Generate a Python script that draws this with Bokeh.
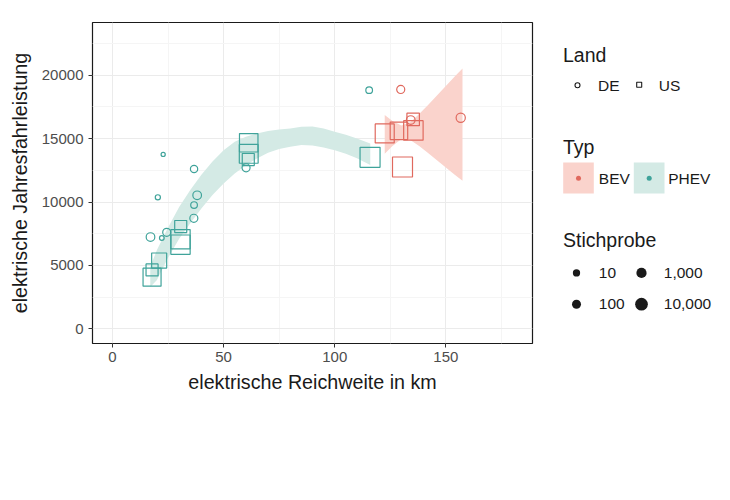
import numpy as np
from bokeh.plotting import figure
from bokeh.models import Range1d, FixedTicker, ColumnDataSource
from bokeh.layouts import row
from bokeh.embed import file_html
from bokeh.resources import INLINE
from bokeh.core.properties import value

# ---------------- data ----------------
land = ["DE"] * 14 + ["US"] * 15
typ = (["PHEV"] * 11 + ["BEV"] * 3 +
       ["PHEV"] * 10 + ["BEV"] * 5)
reichweite = [22.8, 36.7, 20.4, 38.1, 36.7, 36.6, 17.1, 22.2, 24.4, 60.1, 115.5,
              129.7, 156.7, 134.2,
              30.7, 30.6, 30.6, 21.0, 17.8, 17.8, 61.3, 61.3, 61.1, 115.9,
              135.3, 122.5, 128.9, 135.4, 130.5]
jahresfahrleistung = [13750, 12600, 10370, 10530, 9760, 8720, 7240, 7170, 7610, 12700, 18820,
                      18870, 16640, 16460,
                      8070, 7070, 6640, 5390, 4650, 4080, 14670, 13800, 13350, 13520,
                      16510, 15410, 15615, 15645, 12760]
stichprobe = [3, 15, 5, 30, 11, 22, 30, 4, 22, 22, 11,
              22, 40, 30,
              170, 7000, 7000, 780, 170, 3600, 4600, 5500, 170, 10000,
              215, 6000, 2800, 7500, 10000]

# smoothing bands
phev_x = [17, 20, 25, 30, 35, 40, 45, 50, 55, 60, 65, 70, 75, 80, 85, 90, 95, 100, 105, 110, 116]
phev_lo = [3300, 3860, 5600, 7100, 8320, 9500, 10550, 11470, 12250, 12900, 13440, 13880,
           14180, 14350, 14490, 14450, 14300, 14090, 13800, 13450, 12910]
phev_hi = [4900, 6220, 8000, 9600, 10945, 12150, 13200, 14090, 14750, 15150, 15410, 15600,
           15720, 15800, 15930, 15950, 15800, 15540, 15300, 15000, 14620]
bev_x = [122.5, 126, 130, 134, 138, 142, 146, 150, 154, 157.5]
bev_lo = [13800, 14414, 14961, 14885, 14411, 13865, 13300, 12729, 12152, 11680]
bev_hi = [16855, 16396, 16027, 16281, 16933, 17657, 18400, 19149, 19902, 20530]

x_ticks = [0, 50, 100, 150]
y_ticks = [0, 5000, 10000, 15000, 20000]
size_breaks = [10, 100, 1000, 10000]

# ---------------- style ----------------
COL = {"BEV": "#E0695E", "PHEV": "#3FA39A"}
BAND = {"BEV": "#FAD3CC", "PHEV": "#D4EAE5"}
FONT = "Liberation Sans"

def px_size(n):
    return 2.0 + 4.5 * np.log10(np.asarray(n, dtype=float))

W_MAIN, H = 548, 484
B_LEFT, B_TOP, B_RIGHT = 92, 22, 16
B_BOTTOM = H - B_TOP - 321

p = figure(width=W_MAIN, height=H, x_range=Range1d(-9, 189), y_range=Range1d(-1150, 24150),
           output_backend="svg", toolbar_location=None, tools="")
p.min_border_left = B_LEFT
p.min_border_top = B_TOP
p.min_border_right = B_RIGHT
p.min_border_bottom = B_BOTTOM
p.background_fill_color = "#FFFFFF"
p.border_fill_color = "#FFFFFF"
p.outline_line_color = "#1A1A1A"
p.outline_line_width = 1.2

p.xaxis.ticker = FixedTicker(ticks=x_ticks, minor_ticks=[25, 75, 125, 175])
p.yaxis.ticker = FixedTicker(ticks=y_ticks, minor_ticks=[2500, 7500, 12500, 17500, 22500])
p.xgrid.grid_line_color = "#EBEBEB"
p.ygrid.grid_line_color = "#EBEBEB"
p.xgrid.minor_grid_line_color = "#F5F5F5"
p.ygrid.minor_grid_line_color = "#F5F5F5"
for ax in (p.xaxis, p.yaxis):
    ax.axis_line_color = None
    ax.major_tick_line_color = "#333333"
    ax.major_tick_out = 4
    ax.major_tick_in = 0
    ax.minor_tick_line_color = None
    ax.major_label_text_font = FONT
    ax.major_label_text_font_size = "15px"
    ax.major_label_text_color = "#4D4D4D"
    ax.axis_label_text_font = FONT
    ax.axis_label_text_font_size = "19.7px"
    ax.axis_label_text_font_style = "normal"
    ax.axis_label_text_color = "#1A1A1A"
p.xaxis.axis_label = "elektrische Reichweite in km"
p.yaxis.axis_label = "elektrische Jahresfahrleistung"
p.xaxis.major_label_standoff = 4
p.yaxis.major_label_standoff = 5
p.xaxis.axis_label_standoff = 6
p.yaxis.axis_label_standoff = 8

# bands
p.varea(x=phev_x, y1=phev_lo, y2=phev_hi, fill_color=BAND["PHEV"], fill_alpha=1)
p.varea(x=bev_x, y1=bev_lo, y2=bev_hi, fill_color=BAND["BEV"], fill_alpha=1)

src = ColumnDataSource(dict(
    x=reichweite, y=jahresfahrleistung, land=land, typ=typ, n=stichprobe,
    size=list(px_size(stichprobe)),
    color=[COL[t] for t in typ],
    marker=["circle" if l == "DE" else "square" for l in land],
))
p.scatter(x="x", y="y", size="size", marker="marker", source=src,
          fill_color=None, line_color="color", line_width=1.2)

# ---------------- legend panel (coordinates = page pixels) ----------------
L = figure(width=174, height=H, x_range=Range1d(548, 722), y_range=Range1d(343.3, 22.3),
           output_backend="svg", toolbar_location=None, tools="")
L.axis.visible = False
L.grid.visible = False
L.outline_line_color = None
L.min_border_left = 0
L.min_border_right = 0
L.min_border_top = B_TOP
L.min_border_bottom = B_BOTTOM
L.background_fill_color = "#FFFFFF"
L.border_fill_color = "#FFFFFF"

TS_PX, LS_PX = 19.5, 15.5

def txt(x, y, s, size_px):
    # y is the wanted baseline; compensate the renderer's baseline offset
    L.text(x=[x], y=[y - 0.38 * size_px], text=[s], text_font=value(FONT),
           text_font_size=f"{size_px}px", text_color="#1A1A1A",
           text_baseline="alphabetic", text_align="left")

txt(562.5, 62.3, "Land", TS_PX)
L.scatter(x=[577], y=[85], marker="circle", size=5, fill_color=None, line_color="#1A1A1A", line_width=1.1)
txt(597.5, 90.7, "DE", LS_PX)
L.scatter(x=[638.7], y=[84.5], marker="square", size=5, fill_color=None, line_color="#1A1A1A", line_width=1.1)
txt(658.3, 90.7, "US", LS_PX)

txt(562.5, 154.3, "Typ", TS_PX)
L.quad(left=[562.7], right=[593.3], top=[162.3], bottom=[193.3], fill_color=BAND["BEV"], line_color=None)
L.quad(left=[633.3], right=[664], top=[162.3], bottom=[193.3], fill_color=BAND["PHEV"], line_color=None)
L.scatter(x=[578], y=[178], size=5, marker="circle", fill_color=COL["BEV"], line_color=None)
L.scatter(x=[648.7], y=[178], size=5, marker="circle", fill_color=COL["PHEV"], line_color=None)
txt(598.3, 184, "BEV", LS_PX)
txt(667.7, 184, "PHEV", LS_PX)

txt(562.5, 247.7, "Stichprobe", TS_PX)
leg_sizes = [7.3, 9, 10.2, 12.7]
leg_x = [576, 576, 641, 641]
leg_y = [272.7, 304, 272.7, 304]
for s, xx, yy, lab in zip(leg_sizes, leg_x, leg_y, size_breaks):
    L.scatter(x=[xx], y=[yy], size=s, marker="circle", fill_color="#1A1A1A", line_color=None)
    txt(xx + 22.3, yy + 5.6, f"{lab:,}", LS_PX)

layout = row(p, L)
open("out.html", "w").write(file_html(layout, INLINE))
